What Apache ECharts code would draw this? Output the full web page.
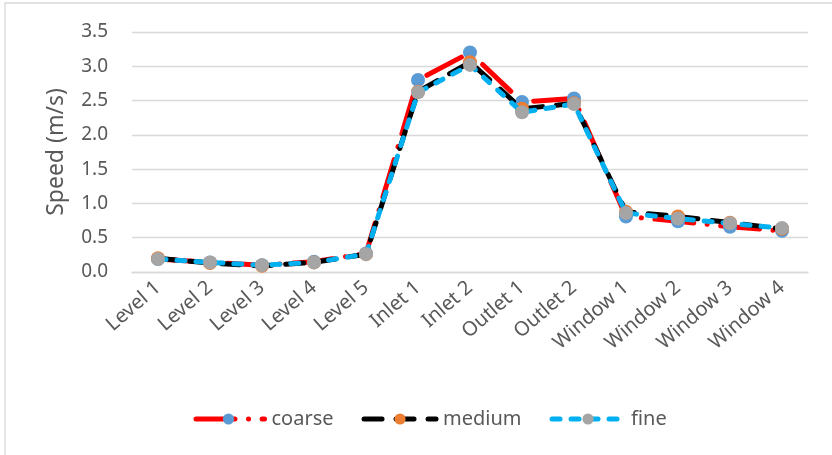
<!DOCTYPE html>
<html>
<head>
<meta charset="utf-8">
<script src="https://cdn.jsdelivr.net/npm/echarts@6/dist/echarts.min.js"></script>
<style>
  html, body { margin: 0; padding: 0; background: #fff; }
  #chart { width: 832px; height: 455px; }
</style>
</head>
<body>
<div id="chart"></div>
<script>
// Measurement locations
const categories = ['Level 1', 'Level 2', 'Level 3', 'Level 4', 'Level 5',
  'Inlet 1', 'Inlet 2', 'Outlet 1', 'Outlet 2',
  'Window 1', 'Window 2', 'Window 3', 'Window 4'];

// Air speed (m/s) for each mesh resolution
const coarse = [0.19, 0.14, 0.10, 0.15, 0.27, 2.80, 3.20, 2.48, 2.53, 0.81, 0.74, 0.66, 0.60];
const medium = [0.20, 0.13, 0.09, 0.14, 0.26, 2.63, 3.06, 2.38, 2.46, 0.88, 0.81, 0.72, 0.63];
const fine   = [0.19, 0.14, 0.10, 0.14, 0.26, 2.62, 3.02, 2.33, 2.45, 0.86, 0.78, 0.71, 0.64];

const seriesNames = ['coarse', 'medium', 'fine'];

const FONT = '"Noto Sans", "Liberation Sans", sans-serif';
const TEXT = '#595959';
const LINE_W = 5;

const chart = echarts.init(document.getElementById('chart'), null, { renderer: 'canvas' });

function lineSeries(name, data, lineColor, dash, dashOffset, markerColor, z) {
  return {
    name: name,
    type: 'line',
    data: data,
    z: z,
    symbol: 'circle',
    symbolSize: 14,
    showSymbol: true,
    itemStyle: { color: markerColor, borderWidth: 0 },
    lineStyle: {
      color: lineColor, width: LINE_W, type: dash, dashOffset: dashOffset,
      cap: 'round', join: 'round'
    },
    emphasis: { disabled: true },
    animation: false
  };
}

chart.setOption({
  animation: false,
  backgroundColor: '#ffffff',
  graphic: [{
    type: 'rect',
    shape: { x: 5, y: 3, width: 900, height: 600 },
    style: { fill: 'none', stroke: '#d9d9d9', lineWidth: 1.3 },
    silent: true,
    z: -10
  }],
  grid: { left: 132, right: 24, top: 32, bottom: 183, containLabel: false },
  legend: {
    data: seriesNames,
    left: 185,
    top: 404,
    itemWidth: 72,
    itemHeight: 14,
    itemGap: 28,
    lineStyle: { width: LINE_W },
    textStyle: { color: TEXT, fontSize: 20, fontFamily: FONT, padding: [0, 0, 0, 2] },
    selectedMode: false
  },
  xAxis: {
    type: 'category',
    data: categories,
    boundaryGap: true,
    axisLine: { show: true, lineStyle: { color: '#d9d9d9', width: 1.3 } },
    axisTick: { show: false },
    axisLabel: {
      rotate: 41,
      interval: 0,
      margin: 13,
      color: TEXT,
      fontSize: 20,
      fontFamily: FONT
    },
    splitLine: { show: false }
  },
  yAxis: {
    type: 'value',
    min: 0,
    max: 3.5,
    interval: 0.5,
    name: 'Speed (m/s)',
    nameLocation: 'middle',
    nameGap: 64,
    nameTextStyle: { color: TEXT, fontSize: 23, fontFamily: FONT },
    axisLine: { show: false },
    axisTick: { show: false },
    axisLabel: {
      margin: 24,
      color: TEXT,
      fontSize: 19,
      fontFamily: FONT,
      formatter: v => v.toFixed(1)
    },
    splitLine: { show: true, lineStyle: { color: '#d9d9d9', width: 1.3 } }
  },
  series: [
    lineSeries('coarse', coarse, '#ff0000', [39, 13.5, 0.1, 13.5], -3.5, '#5b9bd5', 2),
    lineSeries('medium', medium, '#000000', [18, 14], 0, '#ed7d31', 3),
    lineSeries('fine', fine, '#00b0f0', [8, 11], 0, '#a5a5a5', 4)
  ]
});
</script>
</body>
</html>
